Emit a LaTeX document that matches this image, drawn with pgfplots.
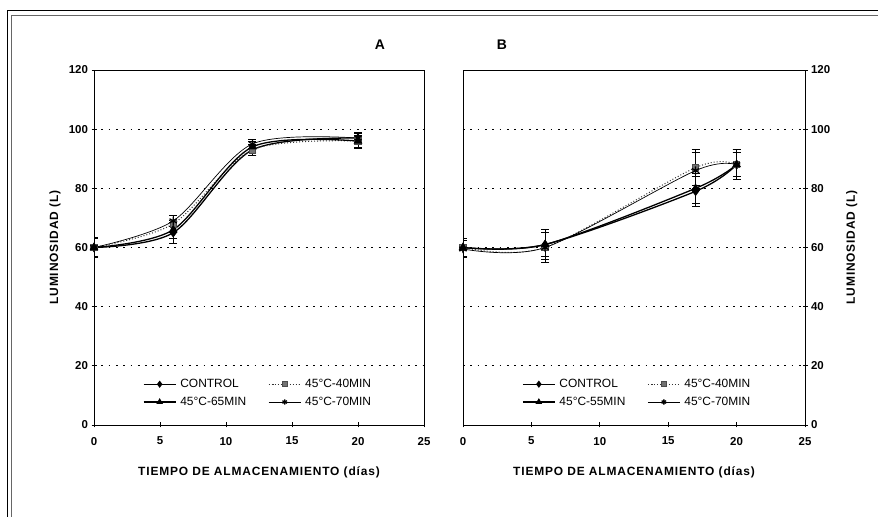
\documentclass[border=0pt]{standalone}
\usepackage{pgfplots}
\pgfplotsset{compat=1.18}
\usepackage{fontspec}
\setmainfont{Liberation Sans}
\newfontfamily\spaced[LetterSpace=7]{Liberation Sans}

\pgfplotsset{
  panel/.style={
    scale only axis, height=355bp,
    xmin=0, xmax=25, ymin=0, ymax=120,
    xtick={0,5,...,25}, ytick={0,20,...,120},
    ymajorgrids,
    major grid style={black, line width=0.8bp, dash pattern=on 1.8bp off 5.5bp},
    axis line style={black, line width=0.8bp},
    tick align=center, major tick length=5bp,
    tick style={black, line width=0.7bp},
    xtick pos=bottom,
    /pgf/number format/assume math mode=true,
    ticklabel style={font=\fontsize{11.5}{13}\selectfont\bfseries},
    xticklabel style={yshift=-6bp},
    label style={font=\fontsize{12}{14}\spaced\bfseries},
    xlabel={TIEMPO DE ALMACENAMIENTO (días)},
    xlabel style={at={(axis description cs:0.5,0)}, anchor=center, yshift=-47bp},
    legend columns=2,
    legend cell align=left,
    legend style={draw=none, fill=none, inner sep=0pt,
      font=\fontsize{12}{14}\selectfont,
      /tikz/every odd column/.append style={column sep=2bp},
      /tikz/every even column/.append style={column sep=20bp},
      row sep=4bp},
    legend image code/.code={%
      \draw[mark repeat=2, mark phase=2, #1, mark size=2.6bp]
        plot coordinates {(0bp,0bp) (16bp,0bp) (32bp,0bp)};},
    error bars/y dir=both, error bars/y explicit,
    error bars/error mark options={rotate=90, mark size=4bp, line width=0.8bp, solid},
    error bars/error bar style={line width=0.8bp, solid, black},
  },
  ctrl/.style={black, line width=1.3bp, smooth, tension=0.5,
    mark=diamond*, mark size=3.8bp, mark options={solid, fill=black}},
  m40/.style={black!80, line width=1bp, dotted, smooth, tension=0.5,
    mark=square*, mark size=3.2bp, mark options={solid, draw=black!70, fill=black!55}},
  m55/.style={black, line width=1.3bp, smooth, tension=0.5,
    mark=triangle*, mark size=3.8bp, mark options={solid, fill=black}},
  m70/.style={black, line width=0.7bp, smooth, tension=0.5,
    mark=asterisk, mark size=4.2bp, mark options={solid, line width=1.3bp}},
}

% Luminosidad (L) vs. tiempo de almacenamiento: x, media, desviacion
\pgfplotstableread{
x y e
0 60 3
6 65 3.5
12 93 2
20 97 2
}\actrl
\pgfplotstableread{
x y e
0 60 3
6 68 3
12 93 2
20 96 2.5
}\aforty
\pgfplotstableread{
x y e
0 60 3
6 66 3
12 94 2
20 96 2
}\afiftyfive
\pgfplotstableread{
x y e
0 60 3.5
6 69 2
12 95 1.5
20 97 1.5
}\aseventy

\pgfplotstableread{
x y e
0 60 3
6 61 5
17 79 5
20 88 5
}\bctrl
\pgfplotstableread{
x y e
0 60 3
6 60 5
17 87 6
20 88 4
}\bforty
\pgfplotstableread{
x y e
0 60 3
6 61 4
17 80 5
20 88 4
}\bfiftyfive
\pgfplotstableread{
x y e
0 59.5 3
6 60 5
17 86 6
20 88 5
}\bseventy

\begin{document}
\begin{tikzpicture}
\useasboundingbox (0bp,0bp) rectangle (878bp,517bp);
% outer frame
\draw[black, line width=1.4bp] (7.3bp,0bp) -- (7.3bp,506.3bp) -- (878bp,506.3bp);
\draw[black!60, line width=0.8bp] (11bp,0bp) -- (11bp,501.7bp) -- (878bp,501.7bp);

\node[font=\fontsize{14}{16}\selectfont\bfseries] at (380bp,472bp) {A};
\node[font=\fontsize{14}{16}\selectfont\bfseries] at (502bp,472bp) {B};

% Panel A
\begin{axis}[panel, at={(94bp,92bp)}, anchor=south west, width=330bp,
  ytick pos=left,
  ylabel={LUMINOSIDAD (L)},
  ylabel style={at={(axis description cs:-0.118,0.5)}, anchor=center},
  legend style={at={(0.148,0.135)}, anchor=north west}]
\addplot[ctrl] table[x=x, y=y, y error=e] {\actrl};
\addlegendentry{CONTROL}
\addplot[m40] table[x=x, y=y, y error=e] {\aforty};
\addlegendentry{45°C-40MIN}
\addplot[m55] table[x=x, y=y, y error=e] {\afiftyfive};
\addlegendentry{45°C-65MIN}
\addplot[m70] table[x=x, y=y, y error=e] {\aseventy};
\addlegendentry{45°C-70MIN}
\end{axis}

% Panel B
\begin{axis}[panel, at={(463bp,92bp)}, anchor=south west, width=342bp,
  ytick pos=right, yticklabel pos=right,
  ylabel={LUMINOSIDAD (L)},
  ylabel style={at={(axis description cs:1.137,0.5)}, anchor=center},
  legend style={at={(0.1725,0.135)}, anchor=north west}]
\addplot[ctrl] table[x=x, y=y, y error=e] {\bctrl};
\addlegendentry{CONTROL}
\addplot[m40] table[x=x, y=y, y error=e] {\bforty};
\addlegendentry{45°C-40MIN}
\addplot[m55] table[x=x, y=y, y error=e] {\bfiftyfive};
\addlegendentry{45°C-55MIN}
\addplot[m70] table[x=x, y=y, y error=e] {\bseventy};
\addlegendentry{45°C-70MIN}
\end{axis}
\end{tikzpicture}
\end{document}
